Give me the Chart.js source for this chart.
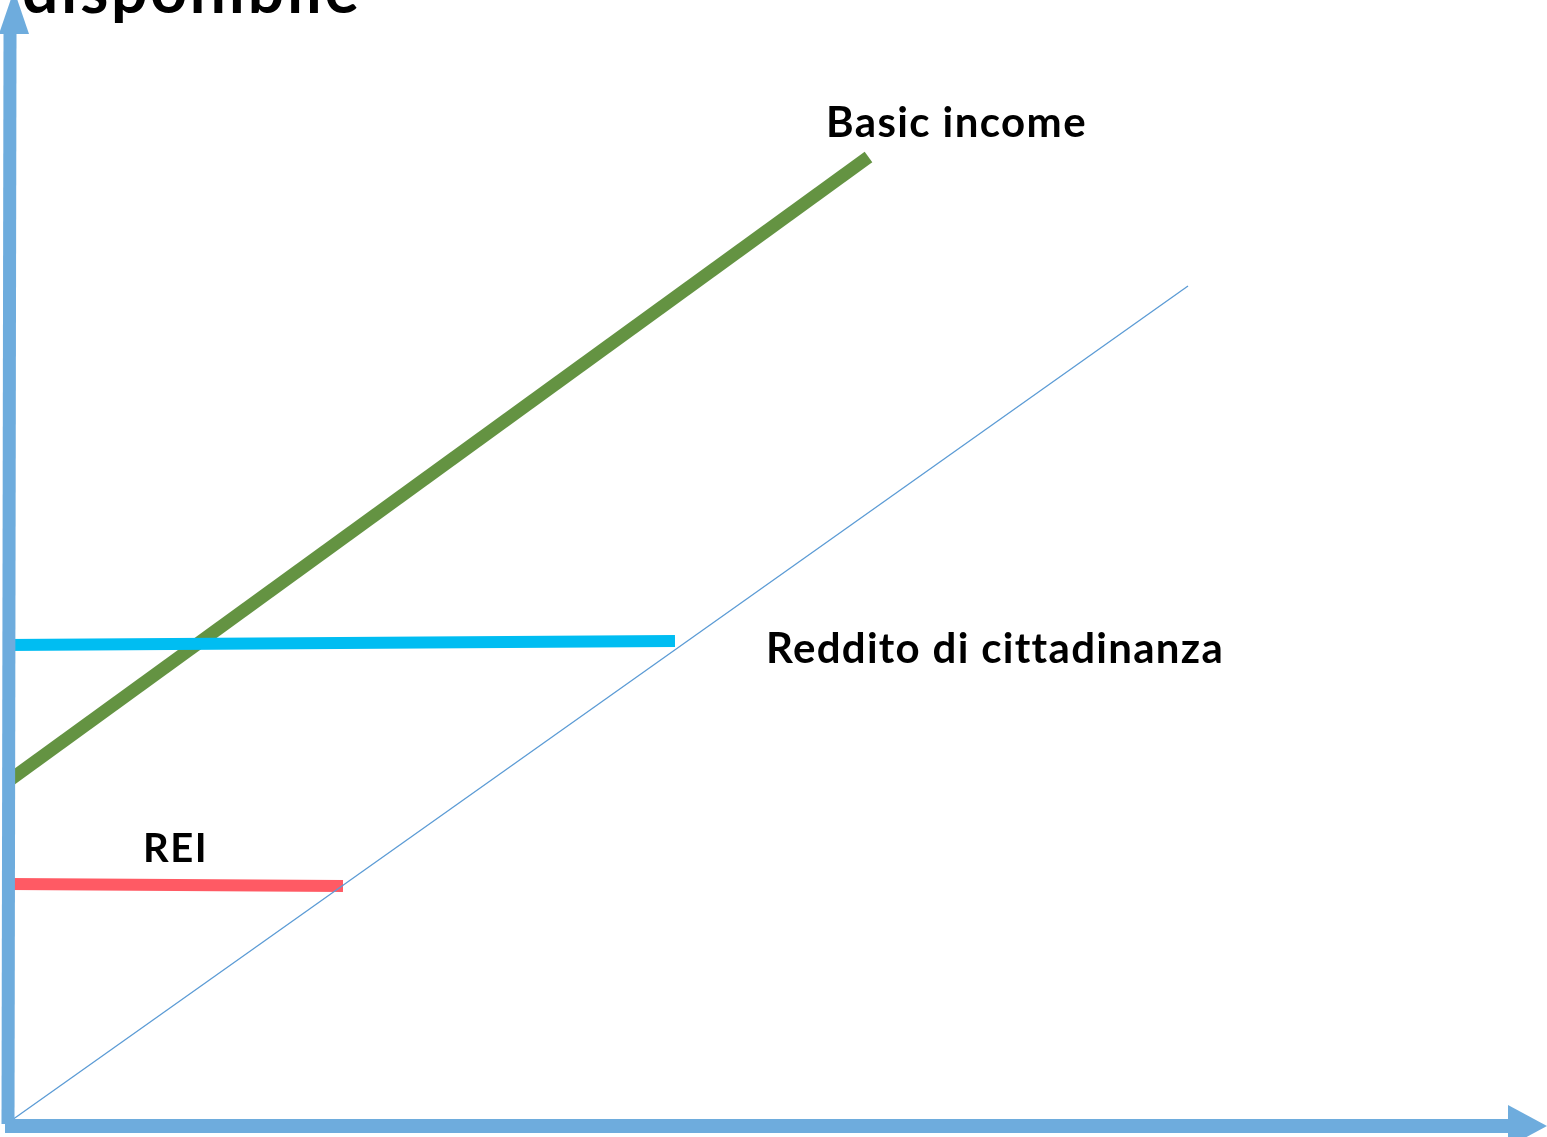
<!DOCTYPE html>
<html>
<head>
<meta charset="utf-8">
<script src="https://cdn.jsdelivr.net/npm/chart.js@4/dist/chart.umd.min.js"></script>
<style>
  html, body { margin: 0; padding: 0; background: #ffffff; overflow: hidden; }
  canvas { display: block; }
</style>
</head>
<body>
<canvas id="c" width="1547" height="1137"></canvas>
<script>
// ---- Data (x = reddito lordo, y = reddito disponibile, arbitrary units) ----
const basicIncomeX = [10.5, 868.5];
const basicIncomeY = [357.5, 980];
const redditoX = [5, 675];
const redditoY = [492, 496];
const reiX = [9, 343];
const reiY = [253, 251];
const diagonalX = [12, 1188];
const diagonalY = [17, 851];
const yAxisX = [8, 10];
const yAxisY = [13, 1103];
const xAxisX = [5, 1508];
const xAxisY = [11, 11];
const yArrowX = [-1, 14, 29];
const yArrowY = [1103, 1147, 1103];
const xArrowX = [1508, 1547, 1508];
const xArrowY = [32, 11, -10];
const labelTexts = ['Basic income', 'Reddito di cittadinanza', 'REI', 'disponibile'];
const labelX = [826, 766, 143, 22];
const labelY = [1000, 474, 275, 1124];

const pts = (xs, ys) => xs.map((x, i) => ({ x: x, y: ys[i] }));

const labelFonts = ['bold 42px Lato', 'bold 42px Lato', 'bold 40px Lato', 'bold 64px Lato'];
const labelSpacing = ['1.4px', '1.3px', '1.5px', '2.8px'];

const overlay = {
  id: 'overlay',
  afterDatasetsDraw(chart) {
    const ctx = chart.ctx;
    const sx = chart.scales.x, sy = chart.scales.y;
    ctx.save();
    ctx.fillStyle = '#6EACDD';
    [[yArrowX, yArrowY], [xArrowX, xArrowY]].forEach(([xs, ys]) => {
      ctx.beginPath();
      xs.forEach((x, i) => {
        const px = sx.getPixelForValue(x), py = sy.getPixelForValue(ys[i]);
        if (i === 0) ctx.moveTo(px, py); else ctx.lineTo(px, py);
      });
      ctx.closePath();
      ctx.fill();
    });
    ctx.fillStyle = '#000000';
    ctx.textBaseline = 'alphabetic';
    ctx.textAlign = 'left';
    labelTexts.forEach((t, i) => {
      ctx.font = labelFonts[i];
      if ('letterSpacing' in ctx) ctx.letterSpacing = labelSpacing[i];
      ctx.fillText(t, sx.getPixelForValue(labelX[i]), sy.getPixelForValue(labelY[i]));
    });
    ctx.restore();
  }
};

const lineDs = (data, color, width) => ({
  data: data, borderColor: color, borderWidth: width, pointRadius: 0,
  borderCapStyle: 'butt', fill: false, tension: 0, showLine: true
});

new Chart(document.getElementById('c'), {
  type: 'scatter',
  data: {
    datasets: [
      lineDs(pts(yAxisX, yAxisY), '#6EACDD', 13),
      lineDs(pts(xAxisX, xAxisY), '#6EACDD', 14),
      lineDs(pts(diagonalX, diagonalY), '#5B9BD5', 1.3),
      lineDs(pts(redditoX, redditoY), '#00BDF2', 12),
      lineDs(pts(basicIncomeX, basicIncomeY), '#649342', 13),
      lineDs(pts(reiX, reiY), '#FF5A64', 12)
    ]
  },
  options: {
    responsive: false,
    animation: false,
    layout: { padding: 0 },
    plugins: { legend: { display: false }, tooltip: { enabled: false } },
    scales: {
      x: { type: 'linear', min: 0, max: 1547, display: false },
      y: { type: 'linear', min: 0, max: 1137, display: false }
    },
    clip: false
  },
  plugins: [overlay]
});
</script>
</body>
</html>
